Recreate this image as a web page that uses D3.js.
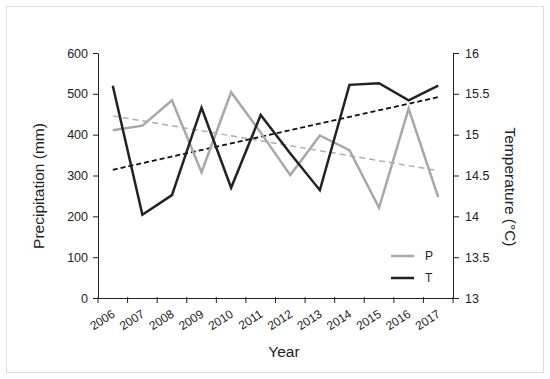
<!DOCTYPE html>
<html>
<head>
<meta charset="utf-8">
<script src="https://cdn.jsdelivr.net/npm/d3@7"></script>
<style>
    body { margin: 0; background: #fff; }
    svg { font-family: "Liberation Sans", Arial, sans-serif; }
</style>
</head>
<body>
<svg id="chart" width="550" height="379"></svg>
<script>
const years = ["2006", "2007", "2008", "2009", "2010", "2011", "2012", "2013", "2014", "2015", "2016", "2017"];
const precip = [411, 422, 484, 308, 504, 405, 301, 398, 362, 221, 464, 247];
const temp = [15.6, 14.02, 14.26, 15.33, 14.35, 15.24, 14.77, 14.32, 15.61, 15.63, 15.42, 15.6];
//trend line end points (first year, last year)
const precipTrend = [446, 312];
const tempTrend = [14.57, 15.46];
const precipTicks = [0, 100, 200, 300, 400, 500, 600];
const tempTicks = [13, 13.5, 14, 14.5, 15, 15.5, 16];

const svg = d3.select("#chart");
const margin = {left: 98, right: 97, top: 53, bottom: 81};
const width = 550 - margin.left - margin.right;
const height = 379 - margin.top - margin.bottom;

//outer frame
svg.append("rect")
    .attr("x", 6.5).attr("y", 6.5)
    .attr("width", 537).attr("height", 366)
    .attr("fill", "none")
    .attr("stroke", "#dcdcdc");

const g = svg.append("g").attr("transform", `translate(${margin.left},${margin.top})`);

const x = d3.scaleBand().domain(years).range([0, width]);
const yP = d3.scaleLinear().domain([0, 600]).range([height, 0]);
const yT = d3.scaleLinear().domain([13, 16]).range([height, 0]);
const cx = d => x(d) + x.bandwidth() / 2;

//axes
const xAxis = g.append("g")
    .attr("transform", `translate(0,${height})`)
    .call(d3.axisBottom(x).tickSize(0).tickFormat(""));
xAxis.selectAll(".tick").remove();
//ticks sit on band edges, not centres
xAxis.selectAll("line.bt")
    .data(d3.range(years.length + 1))
    .join("line")
    .attr("x1", i => i * x.step()).attr("x2", i => i * x.step())
    .attr("y1", -1).attr("y2", 5)
    .attr("stroke", "#222");
xAxis.selectAll("text.yr")
    .data(years)
    .join("text")
    .attr("class", "yr")
    .attr("transform", d => `translate(${cx(d) + 3},${18}) rotate(-33)`)
    .attr("text-anchor", "end")
    .attr("fill", "#222")
    .style("font-size", "12px")
    .text(d => d);

const leftAxis = g.append("g")
    .call(d3.axisLeft(yP).tickValues(precipTicks).tickSize(5).tickPadding(5).tickSizeOuter(0));
const rightAxis = g.append("g")
    .attr("transform", `translate(${width},0)`)
    .call(d3.axisRight(yT).tickValues(tempTicks).tickSize(6).tickPadding(6).tickSizeOuter(0)
        .tickFormat(d3.format("~g")));

[leftAxis, rightAxis, xAxis].forEach(a => {
    a.select(".domain").attr("stroke", "#222");
    a.selectAll(".tick line").attr("stroke", "#222");
    a.selectAll(".tick text").attr("fill", "#222").style("font-size", "12.5px")
        .style("font-family", "'Liberation Sans', Arial, sans-serif");
});

//trend lines
const firstX = cx(years[0]);
const lastX = cx(years[years.length - 1]);
g.append("line")
    .attr("x1", firstX).attr("x2", lastX)
    .attr("y1", yP(precipTrend[0])).attr("y2", yP(precipTrend[1]))
    .attr("stroke", "#b0b0b0")
    .attr("stroke-width", 1.5)
    .attr("stroke-dasharray", "6,4");
g.append("line")
    .attr("x1", firstX).attr("x2", lastX)
    .attr("y1", yT(tempTrend[0])).attr("y2", yT(tempTrend[1]))
    .attr("stroke", "#111")
    .attr("stroke-width", 1.8)
    .attr("stroke-dasharray", "5,3");

//series lines
g.append("path")
    .datum(precip)
    .attr("fill", "none")
    .attr("stroke", "#a8a8a8")
    .attr("stroke-width", 2.5)
    .attr("d", d3.line().x((d, i) => cx(years[i])).y(d => yP(d)));
g.append("path")
    .datum(temp)
    .attr("fill", "none")
    .attr("stroke", "#222")
    .attr("stroke-width", 2.5)
    .attr("d", d3.line().x((d, i) => cx(years[i])).y(d => yT(d)));

//legend
const legend = [{name: "P", color: "#a8a8a8", y: 203}, {name: "T", color: "#222", y: 225}];
const lg = g.selectAll(".legend")
    .data(legend)
    .join("g")
    .attr("transform", d => `translate(293,${d.y})`);
lg.append("line")
    .attr("x1", 0).attr("x2", 23)
    .attr("stroke", d => d.color)
    .attr("stroke-width", 2.5);
lg.append("text")
    .attr("x", 34).attr("y", 4)
    .attr("fill", "#222")
    .style("font-size", "12px")
    .text(d => d.name);

//axis titles
svg.append("text")
    .attr("transform", "translate(44,186) rotate(-90)")
    .attr("text-anchor", "middle")
    .attr("fill", "#222")
    .style("font-size", "15.5px")
    .text("Precipitation (mm)");
svg.append("text")
    .attr("transform", "translate(505,187) rotate(90)")
    .attr("text-anchor", "middle")
    .attr("fill", "#222")
    .style("font-size", "15.5px")
    .text("Temperature (°C)");
svg.append("text")
    .attr("x", 284).attr("y", 357)
    .attr("text-anchor", "middle")
    .attr("fill", "#222")
    .style("font-size", "15.5px")
    .text("Year");
</script>
</body>
</html>
